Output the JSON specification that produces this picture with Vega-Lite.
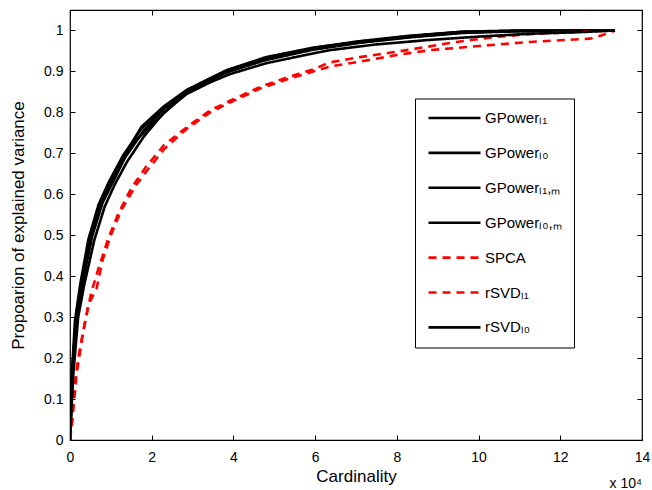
{
  "$schema": "https://vega.github.io/schema/vega-lite/v6.json",
  "width": 572,
  "height": 430,
  "autosize": "none",
  "padding": {"left": 70, "top": 10, "right": 10, "bottom": 50},
  "background": "white",
  "config": {
    "font": "Liberation Sans",
    "view": {"stroke": "black", "strokeWidth": 1.2},
    "axis": {"grid": false, "domain": false, "labelFlush": false, "labelOverlap": false, "tickColor": "black", "tickSize": 5, "offset": -5, "tickWidth": 1, "labelColor": "black", "labelFontSize": 14, "labelFont": "Liberation Sans", "titleFont": "Liberation Sans", "titleFontSize": 17, "titleFontWeight": "normal", "titleColor": "black"}
  },
  "datasets": {
    "curves": [
      {"m": "GPowerₗ₁", "x": 0, "y": 0}, {"m": "GPowerₗ₁", "x": 0.05, "y": 0.16}, {"m": "GPowerₗ₁", "x": 0.15, "y": 0.3}, {"m": "GPowerₗ₁", "x": 0.28, "y": 0.38}, {"m": "GPowerₗ₁", "x": 0.5, "y": 0.5}, {"m": "GPowerₗ₁", "x": 0.75, "y": 0.58}, {"m": "GPowerₗ₁", "x": 1.0, "y": 0.635}, {"m": "GPowerₗ₁", "x": 1.3, "y": 0.69}, {"m": "GPowerₗ₁", "x": 1.75, "y": 0.765}, {"m": "GPowerₗ₁", "x": 2.3, "y": 0.815}, {"m": "GPowerₗ₁", "x": 2.86, "y": 0.855}, {"m": "GPowerₗ₁", "x": 3.3, "y": 0.877}, {"m": "GPowerₗ₁", "x": 3.83, "y": 0.903}, {"m": "GPowerₗ₁", "x": 4.8, "y": 0.933}, {"m": "GPowerₗ₁", "x": 5.95, "y": 0.957}, {"m": "GPowerₗ₁", "x": 7.1, "y": 0.973}, {"m": "GPowerₗ₁", "x": 8.3, "y": 0.986}, {"m": "GPowerₗ₁", "x": 9.6, "y": 0.997}, {"m": "GPowerₗ₁", "x": 11, "y": 0.999}, {"m": "GPowerₗ₁", "x": 13.34, "y": 1.0},
      {"m": "GPowerₗ₀", "x": 0, "y": 0}, {"m": "GPowerₗ₀", "x": 0.06, "y": 0.17}, {"m": "GPowerₗ₀", "x": 0.16, "y": 0.31}, {"m": "GPowerₗ₀", "x": 0.3, "y": 0.39}, {"m": "GPowerₗ₀", "x": 0.5, "y": 0.495}, {"m": "GPowerₗ₀", "x": 0.75, "y": 0.575}, {"m": "GPowerₗ₀", "x": 1.0, "y": 0.63}, {"m": "GPowerₗ₀", "x": 1.3, "y": 0.685}, {"m": "GPowerₗ₀", "x": 1.6, "y": 0.73}, {"m": "GPowerₗ₀", "x": 2.0, "y": 0.77}, {"m": "GPowerₗ₀", "x": 2.86, "y": 0.85}, {"m": "GPowerₗ₀", "x": 3.3, "y": 0.875}, {"m": "GPowerₗ₀", "x": 3.9, "y": 0.9}, {"m": "GPowerₗ₀", "x": 4.8, "y": 0.93}, {"m": "GPowerₗ₀", "x": 5.95, "y": 0.955}, {"m": "GPowerₗ₀", "x": 7.1, "y": 0.971}, {"m": "GPowerₗ₀", "x": 8.3, "y": 0.984}, {"m": "GPowerₗ₀", "x": 9.6, "y": 0.995}, {"m": "GPowerₗ₀", "x": 11, "y": 0.999}, {"m": "GPowerₗ₀", "x": 13.34, "y": 1.0},
      {"m": "GPowerₗ₁,ₘ", "x": 0, "y": 0}, {"m": "GPowerₗ₁,ₘ", "x": 0.04, "y": 0.15}, {"m": "GPowerₗ₁,ₘ", "x": 0.12, "y": 0.29}, {"m": "GPowerₗ₁,ₘ", "x": 0.25, "y": 0.38}, {"m": "GPowerₗ₁,ₘ", "x": 0.45, "y": 0.49}, {"m": "GPowerₗ₁,ₘ", "x": 0.7, "y": 0.575}, {"m": "GPowerₗ₁,ₘ", "x": 0.95, "y": 0.63}, {"m": "GPowerₗ₁,ₘ", "x": 1.3, "y": 0.695}, {"m": "GPowerₗ₁,ₘ", "x": 1.75, "y": 0.76}, {"m": "GPowerₗ₁,ₘ", "x": 2.3, "y": 0.812}, {"m": "GPowerₗ₁,ₘ", "x": 2.9, "y": 0.856}, {"m": "GPowerₗ₁,ₘ", "x": 3.4, "y": 0.88}, {"m": "GPowerₗ₁,ₘ", "x": 3.9, "y": 0.905}, {"m": "GPowerₗ₁,ₘ", "x": 4.8, "y": 0.935}, {"m": "GPowerₗ₁,ₘ", "x": 5.95, "y": 0.958}, {"m": "GPowerₗ₁,ₘ", "x": 7.1, "y": 0.974}, {"m": "GPowerₗ₁,ₘ", "x": 8.3, "y": 0.987}, {"m": "GPowerₗ₁,ₘ", "x": 9.6, "y": 0.997}, {"m": "GPowerₗ₁,ₘ", "x": 11, "y": 1.0}, {"m": "GPowerₗ₁,ₘ", "x": 13.34, "y": 1.0},
      {"m": "GPowerₗ₀,ₘ", "x": 0, "y": 0}, {"m": "GPowerₗ₀,ₘ", "x": 0.07, "y": 0.17}, {"m": "GPowerₗ₀,ₘ", "x": 0.18, "y": 0.31}, {"m": "GPowerₗ₀,ₘ", "x": 0.32, "y": 0.39}, {"m": "GPowerₗ₀,ₘ", "x": 0.55, "y": 0.5}, {"m": "GPowerₗ₀,ₘ", "x": 0.8, "y": 0.58}, {"m": "GPowerₗ₀,ₘ", "x": 1.05, "y": 0.63}, {"m": "GPowerₗ₀,ₘ", "x": 1.35, "y": 0.69}, {"m": "GPowerₗ₀,ₘ", "x": 1.8, "y": 0.755}, {"m": "GPowerₗ₀,ₘ", "x": 2.3, "y": 0.808}, {"m": "GPowerₗ₀,ₘ", "x": 2.86, "y": 0.85}, {"m": "GPowerₗ₀,ₘ", "x": 3.4, "y": 0.876}, {"m": "GPowerₗ₀,ₘ", "x": 3.83, "y": 0.898}, {"m": "GPowerₗ₀,ₘ", "x": 4.8, "y": 0.928}, {"m": "GPowerₗ₀,ₘ", "x": 5.95, "y": 0.953}, {"m": "GPowerₗ₀,ₘ", "x": 7.1, "y": 0.97}, {"m": "GPowerₗ₀,ₘ", "x": 8.3, "y": 0.983}, {"m": "GPowerₗ₀,ₘ", "x": 9.6, "y": 0.994}, {"m": "GPowerₗ₀,ₘ", "x": 11, "y": 0.998}, {"m": "GPowerₗ₀,ₘ", "x": 13.34, "y": 1.0},
      {"m": "SPCA", "x": 0, "y": 0}, {"m": "SPCA", "x": 0.05, "y": 0.05}, {"m": "SPCA", "x": 0.12, "y": 0.14}, {"m": "SPCA", "x": 0.2, "y": 0.2}, {"m": "SPCA", "x": 0.35, "y": 0.28}, {"m": "SPCA", "x": 0.52, "y": 0.36}, {"m": "SPCA", "x": 0.7, "y": 0.42}, {"m": "SPCA", "x": 0.93, "y": 0.49}, {"m": "SPCA", "x": 1.17, "y": 0.55}, {"m": "SPCA", "x": 1.5, "y": 0.615}, {"m": "SPCA", "x": 1.86, "y": 0.667}, {"m": "SPCA", "x": 2.3, "y": 0.72}, {"m": "SPCA", "x": 2.86, "y": 0.764}, {"m": "SPCA", "x": 3.43, "y": 0.805}, {"m": "SPCA", "x": 4.0, "y": 0.832}, {"m": "SPCA", "x": 4.65, "y": 0.862}, {"m": "SPCA", "x": 5.3, "y": 0.885}, {"m": "SPCA", "x": 5.95, "y": 0.905}, {"m": "SPCA", "x": 6.36, "y": 0.922}, {"m": "SPCA", "x": 7.1, "y": 0.935}, {"m": "SPCA", "x": 8.0, "y": 0.948}, {"m": "SPCA", "x": 9.46, "y": 0.972}, {"m": "SPCA", "x": 10.5, "y": 0.985}, {"m": "SPCA", "x": 11.26, "y": 0.991}, {"m": "SPCA", "x": 12.5, "y": 0.997}, {"m": "SPCA", "x": 13.34, "y": 1.0},
      {"m": "rSVDₗ₁", "x": 0, "y": 0}, {"m": "rSVDₗ₁", "x": 0.06, "y": 0.05}, {"m": "rSVDₗ₁", "x": 0.16, "y": 0.16}, {"m": "rSVDₗ₁", "x": 0.3, "y": 0.25}, {"m": "rSVDₗ₁", "x": 0.45, "y": 0.33}, {"m": "rSVDₗ₁", "x": 0.65, "y": 0.37}, {"m": "rSVDₗ₁", "x": 0.8, "y": 0.44}, {"m": "rSVDₗ₁", "x": 1.0, "y": 0.5}, {"m": "rSVDₗ₁", "x": 1.25, "y": 0.56}, {"m": "rSVDₗ₁", "x": 1.6, "y": 0.62}, {"m": "rSVDₗ₁", "x": 1.9, "y": 0.66}, {"m": "rSVDₗ₁", "x": 2.3, "y": 0.71}, {"m": "rSVDₗ₁", "x": 2.86, "y": 0.76}, {"m": "rSVDₗ₁", "x": 3.43, "y": 0.8}, {"m": "rSVDₗ₁", "x": 4.0, "y": 0.828}, {"m": "rSVDₗ₁", "x": 4.65, "y": 0.858}, {"m": "rSVDₗ₁", "x": 5.3, "y": 0.88}, {"m": "rSVDₗ₁", "x": 5.95, "y": 0.9}, {"m": "rSVDₗ₁", "x": 6.36, "y": 0.912}, {"m": "rSVDₗ₁", "x": 7.1, "y": 0.924}, {"m": "rSVDₗ₁", "x": 8.0, "y": 0.94}, {"m": "rSVDₗ₁", "x": 8.81, "y": 0.952}, {"m": "rSVDₗ₁", "x": 10, "y": 0.962}, {"m": "rSVDₗ₁", "x": 11.26, "y": 0.972}, {"m": "rSVDₗ₁", "x": 12.73, "y": 0.98}, {"m": "rSVDₗ₁", "x": 13.0, "y": 0.988}, {"m": "rSVDₗ₁", "x": 13.34, "y": 1.0},
      {"m": "rSVDₗ₀", "x": 0, "y": 0}, {"m": "rSVDₗ₀", "x": 0.08, "y": 0.16}, {"m": "rSVDₗ₀", "x": 0.2, "y": 0.3}, {"m": "rSVDₗ₀", "x": 0.35, "y": 0.38}, {"m": "rSVDₗ₀", "x": 0.6, "y": 0.49}, {"m": "rSVDₗ₀", "x": 0.85, "y": 0.57}, {"m": "rSVDₗ₀", "x": 1.1, "y": 0.625}, {"m": "rSVDₗ₀", "x": 1.4, "y": 0.68}, {"m": "rSVDₗ₀", "x": 1.8, "y": 0.74}, {"m": "rSVDₗ₀", "x": 2.3, "y": 0.8}, {"m": "rSVDₗ₀", "x": 2.86, "y": 0.845}, {"m": "rSVDₗ₀", "x": 3.4, "y": 0.872}, {"m": "rSVDₗ₀", "x": 3.9, "y": 0.893}, {"m": "rSVDₗ₀", "x": 4.8, "y": 0.92}, {"m": "rSVDₗ₀", "x": 5.95, "y": 0.944}, {"m": "rSVDₗ₀", "x": 6.36, "y": 0.952}, {"m": "rSVDₗ₀", "x": 7.5, "y": 0.966}, {"m": "rSVDₗ₀", "x": 8.81, "y": 0.977}, {"m": "rSVDₗ₀", "x": 10, "y": 0.985}, {"m": "rSVDₗ₀", "x": 11.26, "y": 0.992}, {"m": "rSVDₗ₀", "x": 12.5, "y": 0.996}, {"m": "rSVDₗ₀", "x": 13.34, "y": 1.0}
    ],
    "note": [{"x": 14, "y": 0, "t": "x 10⁴"}]
  },
  "layer": [
    {
      "data": {"name": "curves"},
      "mark": {"type": "line", "strokeWidth": 2.6, "clip": true},
      "encoding": {
        "x": {"field": "x", "type": "quantitative", "scale": {"domain": [0, 14], "nice": false},
              "axis": {"orient": "bottom", "values": [0, 2, 4, 6, 8, 10, 12, 14], "format": "d", "title": "Cardinality", "labelPadding": 10, "titlePadding": 4}},
        "y": {"field": "y", "type": "quantitative", "scale": {"domain": [0, 1.05], "nice": false},
              "axis": {"orient": "left", "values": [0, 0.1, 0.2, 0.3, 0.4, 0.5, 0.6, 0.7, 0.8, 0.9, 1], "format": ".1~f", "title": "Propoarion of explained variance", "labelPadding": 7, "titlePadding": 16}},
        "color": {"field": "m", "type": "nominal",
                  "scale": {"domain": ["GPowerₗ₁", "GPowerₗ₀", "GPowerₗ₁,ₘ", "GPowerₗ₀,ₘ", "SPCA", "rSVDₗ₁", "rSVDₗ₀"], "range": ["black", "black", "black", "black", "#ff0000", "#ff0000", "black"]},
                  "legend": {"title": null, "orient": "none", "legendX": 345, "legendY": 88.5, "symbolType": "stroke", "symbolSize": 2704, "symbolStrokeWidth": 2.6, "labelFontSize": 15, "labelColor": "black", "labelOffset": 3, "clipHeight": 15, "rowPadding": 18.9, "padding": 12, "strokeColor": "black", "fillColor": "white", "labelLimit": 200}},
        "strokeDash": {"field": "m", "type": "nominal",
                  "scale": {"domain": ["GPowerₗ₁", "GPowerₗ₀", "GPowerₗ₁,ₘ", "GPowerₗ₀,ₘ", "SPCA", "rSVDₗ₁", "rSVDₗ₀"], "range": [[1, 0], [1, 0], [1, 0], [1, 0], [8, 6], [8, 6], [1, 0]]},
                  "legend": {"title": null, "orient": "none", "legendX": 345, "legendY": 88.5, "symbolType": "stroke", "symbolSize": 2704, "symbolStrokeWidth": 2.6, "labelFontSize": 15, "labelColor": "black", "labelOffset": 3, "clipHeight": 15, "rowPadding": 18.9, "padding": 12, "strokeColor": "black", "fillColor": "white", "labelLimit": 200}},
        "order": {"field": "x", "type": "quantitative"}
      }
    },
    {
      "data": {"name": "note"},
      "mark": {"type": "text", "align": "right", "baseline": "alphabetic", "dy": 48, "fontSize": 14, "font": "Liberation Sans", "color": "black"},
      "encoding": {
        "x": {"field": "x", "type": "quantitative", "axis": {"orient": "top", "values": [0, 2, 4, 6, 8, 10, 12, 14], "labels": false, "title": null}},
        "y": {"field": "y", "type": "quantitative", "axis": {"orient": "right", "values": [0, 0.1, 0.2, 0.3, 0.4, 0.5, 0.6, 0.7, 0.8, 0.9, 1], "labels": false, "title": null}},
        "text": {"field": "t"}
      }
    }
  ],
  "resolve": {"axis": {"x": "independent", "y": "independent"}}
}
